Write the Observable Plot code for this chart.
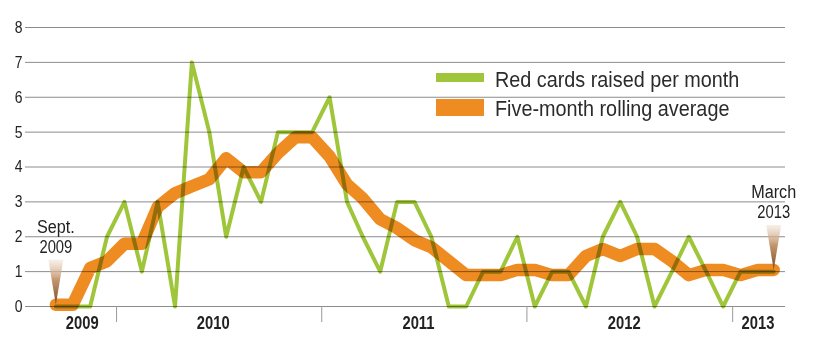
<!DOCTYPE html>
<html>
<head>
<meta charset="utf-8">
<script src="https://cdn.jsdelivr.net/npm/d3@7"></script>
<script src="https://cdn.jsdelivr.net/npm/@observablehq/plot@0.6"></script>
<style>
  body { margin: 0; background: #fff; }
  #chart { position: relative; width: 818px; height: 355px; overflow: hidden;
    font-family: "Liberation Sans Narrow", "Liberation Sans", Arial, sans-serif; }
  #chart svg { display: block; }
  .lg-swatch { position: absolute; left: 436px; width: 48px; }
  .lg-text { position: absolute; left: 495px; font-size: 22px; line-height: 22px; color: #2b2b2b; white-space: nowrap;
    transform-origin: 0 50%; }
</style>
</head>
<body>
<div id="chart"></div>
<script>
// ---- data ----
const firstMonth = "2009-09";
const lastMonth = "2013-03";
const redCards = [0,0,0,2,3,1,3,0,7,5,2,4,3,5,5,5,6,3,2,1,3,3,2,0,0,1,1,2,0,1,1,0,2,3,2,0,1,2,1,0,1,1,1];
const rollingAvg = [0.05,0.05,1.1,1.3,1.8,1.8,2.85,3.25,3.45,3.65,4.25,3.85,3.85,4.4,4.85,4.85,4.3,3.5,3.1,2.5,2.25,1.9,1.7,1.3,0.9,0.9,0.9,1.05,1.05,0.9,0.9,1.45,1.65,1.45,1.65,1.65,1.3,0.9,1.05,1.05,0.9,1.05,1.05];
const yTicks = [0,1,2,3,4,5,6,7,8];
const yearBoundaries = ["2010-01-01","2011-01-01","2012-01-01","2013-01-01"];
const yearLabels = ["2009","2010","2011","2012","2013"];
const yearLabelDates = ["2009-11-01","2010-06-22","2011-06-22","2012-06-22","2013-02-15"];
const annotationLabels = ["Sept.\n2009", "March\n2013"];
const seriesNames = ["Red cards raised per month", "Five-month rolling average"];
const colors = { red: "#9fc63b", avg: "#ee8c22", grid: "#8c8c8c", text: "#222" };

// ---- build tables ----
const months = d3.utcMonth.range(new Date(firstMonth + "-01"), d3.utcMonth.offset(new Date(lastMonth + "-01"), 1))
  .map(d => d3.utcDay.offset(d, 14));
const data = months.map((date, i) => ({ date, red: redCards[i], avg: rollingAvg[i] }));
const annotations = [
  { date: months[0], value: rollingAvg[0], label: annotationLabels[0] },
  { date: months[months.length - 1], value: rollingAvg[rollingAvg.length - 1], label: annotationLabels[1] }
];
const yearLabelData = yearLabels.map((label, i) => ({ date: new Date(yearLabelDates[i]), label }));

const fontFamily = '"Liberation Sans Narrow", "Liberation Sans", Arial, sans-serif';

const chart = Plot.plot({
  width: 818,
  height: 355,
  marginLeft: 25,
  marginRight: 33,
  marginTop: 27,
  marginBottom: 49,
  style: { fontFamily, background: "#fff", color: colors.text, overflow: "visible" },
  x: { type: "utc", domain: [new Date("2009-07-23"), new Date("2013-04-05")] },
  y: { domain: [0, 8] },
  marks: [
    Plot.gridY(yTicks, { stroke: colors.grid, strokeOpacity: 1, strokeWidth: 1 }),
    Plot.axisY(yTicks, { tickSize: 0, tickPadding: 3, fontSize: 17, label: null, fill: colors.text }),
    Plot.axisX(yearBoundaries.map(d => new Date(d)), { tickSize: 16, tickFormat: () => "", label: null, stroke: "#999" }),
    Plot.text(yearLabelData, { x: "date", frameAnchor: "bottom", dy: 22, text: "label", fontSize: 18, fontWeight: "bold", fill: colors.text }),
    Plot.line(data, { x: "date", y: "avg", stroke: colors.avg, strokeWidth: 12.5, mixBlendMode: "multiply" }),
    Plot.line(data, { x: "date", y: "red", stroke: colors.red, strokeWidth: 4, mixBlendMode: "multiply" }),
    Plot.vector(annotations, { x: "date", y: "value", length: 45, rotate: 180, anchor: "end", shape: "spike", r: 7.5, fill: "url(#spikeGrad)", stroke: "none" }),
    Plot.text(annotations, { x: "date", y: "value", text: "label", dy: -52, lineAnchor: "bottom", lineHeight: 1.1, fontSize: 18, fill: colors.text })
  ]
});

// gradient for annotation spikes
const svg = d3.select(chart);
const grad = svg.insert("defs", ":first-child").append("linearGradient")
  .attr("id", "spikeGrad").attr("x1", 0).attr("y1", 0).attr("x2", 0).attr("y2", 1);
grad.append("stop").attr("offset", 0).attr("stop-color", "#7a4a22").attr("stop-opacity", 1);
grad.append("stop").attr("offset", 0.55).attr("stop-color", "#bd8a5e").attr("stop-opacity", 0.9);
grad.append("stop").attr("offset", 1).attr("stop-color", "#f0e0d0").attr("stop-opacity", 0.5);

const container = document.getElementById("chart");
container.appendChild(chart);

// emulate a condensed typeface: digits narrower than letters, as in the original
const digitScale = 0.82, wordScale = 0.9;
chart.querySelectorAll("text").forEach(t => {
  const spans = t.querySelectorAll("tspan");
  const targets = spans.length ? Array.from(spans) : [t];
  targets.forEach(el => {
    const len = el.getComputedTextLength();
    if (len > 0) {
      const k = /^[\d.\s]+$/.test(el.textContent) ? digitScale : wordScale;
      el.setAttribute("textLength", (len * k).toFixed(2));
      el.setAttribute("lengthAdjust", "spacingAndGlyphs");
    }
  });
});

// legend overlay
const legendItems = [
  { name: seriesNames[0], color: colors.red, swTop: 72.5, swH: 9, textTop: 69 },
  { name: seriesNames[1], color: colors.avg, swTop: 99, swH: 17, textTop: 97.5 }
];
legendItems.forEach(it => {
  const sw = document.createElement("div");
  sw.className = "lg-swatch";
  sw.style.top = it.swTop + "px";
  sw.style.height = it.swH + "px";
  sw.style.background = it.color;
  container.appendChild(sw);
  const tx = document.createElement("div");
  tx.className = "lg-text";
  tx.style.top = it.textTop + "px";
  tx.style.transform = `scaleX(${wordScale})`;
  tx.textContent = it.name;
  container.appendChild(tx);
});
</script>
</body>
</html>
